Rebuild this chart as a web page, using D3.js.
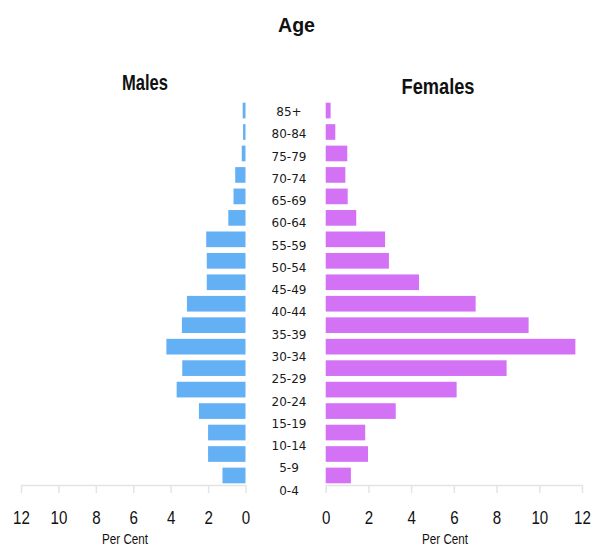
<!DOCTYPE html>
<html>
<head>
<meta charset="utf-8">
<script src="https://cdn.jsdelivr.net/npm/d3@7"></script>
<style>
  html, body { margin: 0; padding: 0; background: #ffffff; }
  svg { display: block; }
</style>
</head>
<body>
<svg id="chart" width="593" height="547"></svg>
<script>
// Age groups, oldest at the top
const ageGroups = ["85+", "80-84", "75-79", "70-74", "65-69", "60-64", "55-59", "50-54",
  "45-49", "40-44", "35-39", "30-34", "25-29", "20-24", "15-19", "10-14", "5-9", "0-4"];

// Share of population (per cent) in each age group
const malesPct = [0.15, 0.13, 0.2, 0.55, 0.64, 0.92, 2.1, 2.07, 2.07, 3.13, 3.4, 4.23,
  3.38, 3.68, 2.49, 2.0, 2.0, 1.23];
const femalesPct = [0.23, 0.45, 1.01, 0.92, 1.03, 1.43, 2.78, 2.96, 4.37, 7.02, 9.5, 11.69,
  8.47, 6.13, 3.28, 1.85, 1.98, 1.18];

const axisTicks = [0, 2, 4, 6, 8, 10, 12];

const svg = d3.select("#chart");

const maleColor = "#64b0f5";
const femaleColor = "#d472f6";

// Horizontal scales: males grow leftwards, females rightwards
const xMale = d3.scaleLinear().domain([0, 12]).range([245.5, 21]);
const xFemale = d3.scaleLinear().domain([0, 12]).range([325.7, 582]);

// Vertical band for bars and point scale for the age labels
const yBar = d3.scaleBand().domain(ageGroups).range([96.9, 489.1]).padding(0.27);
const yLabel = d3.scalePoint().domain(ageGroups).range([111.7, 490.3]);

// Bars
svg.append("g").selectAll("rect")
  .data(ageGroups.map((a, i) => ({ age: a, v: malesPct[i] })))
  .join("rect")
  .attr("x", d => xMale(d.v))
  .attr("y", d => yBar(d.age))
  .attr("width", d => xMale(0) - xMale(d.v))
  .attr("height", yBar.bandwidth())
  .attr("fill", maleColor);

svg.append("g").selectAll("rect")
  .data(ageGroups.map((a, i) => ({ age: a, v: femalesPct[i] })))
  .join("rect")
  .attr("x", xFemale(0))
  .attr("y", d => yBar(d.age))
  .attr("width", d => xFemale(d.v) - xFemale(0))
  .attr("height", yBar.bandwidth())
  .attr("fill", femaleColor);

// Age labels in the middle column
svg.append("g").selectAll("text")
  .data(ageGroups)
  .join("text")
  .attr("x", 289)
  .attr("y", d => yLabel(d))
  .attr("dy", "0.36em")
  .attr("text-anchor", "middle")
  .attr("font-family", "'DejaVu Sans', Verdana, sans-serif")
  .attr("font-size", 12)
  .attr("fill", "#1a1a1a")
  .text(d => d);

// Bottom axes
function drawAxis(scale) {
  const g = svg.append("g")
    .attr("transform", "translate(0,485)")
    .call(d3.axisBottom(scale).tickValues(axisTicks).tickSize(8).tickSizeOuter(0));
  g.select(".domain").attr("stroke", "#e4e4e4").attr("stroke-width", 1.5);
  g.selectAll(".tick line").attr("stroke", "#e4e4e4").attr("stroke-width", 1.5);
  g.selectAll(".tick text")
    .attr("y", 39)
    .attr("dy", 0)
    .attr("fill", "#111")
    .attr("font-family", "'Liberation Sans', Arial, sans-serif")
    .attr("font-size", 18)
    .attr("transform", "scale(0.84,1)");
  return g;
}
drawAxis(xMale);
drawAxis(xFemale);

// Titles
function label(text, x, y, size, weight, len) {
  svg.append("text")
    .attr("x", x)
    .attr("y", y)
    .attr("text-anchor", "middle")
    .attr("font-family", "'Liberation Sans', Arial, sans-serif")
    .attr("font-size", size)
    .attr("font-weight", weight)
    .attr("fill", "#111")
    .attr("textLength", len)
    .attr("lengthAdjust", "spacingAndGlyphs")
    .text(text);
}
label("Age", 296.5, 32, 21, "bold", 37);
label("Males", 145, 90, 22, "bold", 46);
label("Females", 438, 94, 22, "bold", 73);
label("Per Cent", 125, 544, 14, "normal", 46);
label("Per Cent", 445, 544, 14, "normal", 46);
</script>
</body>
</html>
